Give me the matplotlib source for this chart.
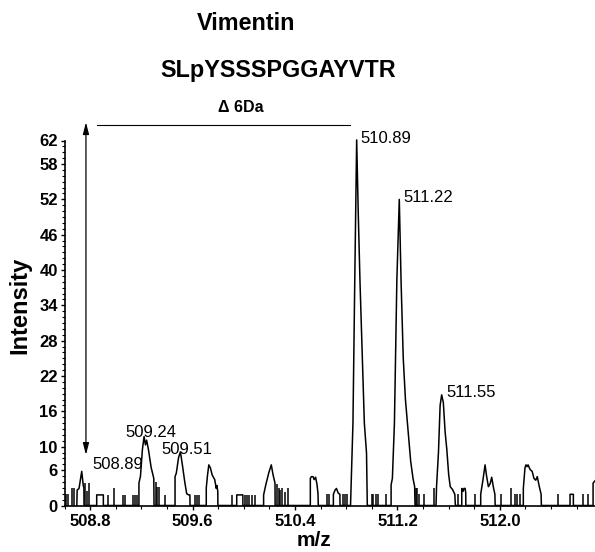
import matplotlib
matplotlib.use("Agg")
import matplotlib.pyplot as plt
from matplotlib.ticker import MultipleLocator, FixedLocator, FormatStrFormatter

plt.rcParams['font.family'] = ['Liberation Sans', 'DejaVu Sans']

# profile trace (m/z, intensity)
trace_mz = [
    508.695, 508.697, 508.712, 508.733, 508.745, 508.750, 508.751,
    508.850, 508.850, 508.902, 508.902,
    509.180, 509.180, 509.192, 509.207, 509.220, 509.231, 509.240, 509.255, 509.275, 509.296, 509.298,
    509.462, 509.462, 509.472, 509.490, 509.504, 509.520, 509.538, 509.553, 509.568, 509.578, 509.579,
    509.706, 509.706, 509.716, 509.726, 509.738, 509.752, 509.772, 509.784, 509.789, 509.796, 509.797,
    509.944, 509.944, 509.992, 509.992,
    510.154, 510.154, 510.172, 510.195, 510.214, 510.228, 510.243, 510.244,
    510.519, 510.519, 510.527, 510.540, 510.549, 510.560, 510.571, 510.579, 510.581,
    510.699, 510.699, 510.712, 510.723, 510.737, 510.750, 510.751,
    510.833, 510.852, 510.866, 510.881, 510.893, 510.907, 510.941, 510.958, 510.964,
    511.150, 511.150, 511.160, 511.176, 511.195, 511.214, 511.228, 511.245, 511.262, 511.285,
    511.303, 511.322, 511.334, 511.337,
    511.501, 511.505, 511.520, 511.533, 511.545, 511.558, 511.572, 511.585, 511.600, 511.612,
    511.630, 511.648, 511.652,
    511.702, 511.702, 511.712, 511.719, 511.728, 511.733, 511.734,
    511.850, 511.850, 511.868, 511.884, 511.896, 511.910, 511.924, 511.936, 511.950, 511.961, 511.963,
    512.183, 512.183, 512.196, 512.204, 512.212, 512.220, 512.236, 512.252, 512.266, 512.280,
    512.292, 512.306, 512.322, 512.324,
    512.548, 512.548, 512.574, 512.574,
    512.728, 512.728, 512.743,
]
trace_int = [
    0, 2.6, 2.9, 5.8, 3.4, 3.0, 0,
    0, 1.8, 1.8, 0,
    0, 3.8, 5.0, 9.5, 11.7, 10.3, 11.1, 9.4, 6.5, 4.6, 0,
    0, 4.9, 5.5, 8.2, 9.1, 6.8, 4.0, 2.0, 1.8, 1.8, 0,
    0, 3.0, 5.2, 6.9, 6.4, 5.2, 4.4, 2.9, 3.4, 2.4, 0,
    0, 1.8, 1.8, 0,
    0, 1.8, 3.6, 5.6, 6.9, 5.2, 3.8, 0,
    0, 4.6, 4.9, 4.9, 4.4, 4.8, 3.6, 2.0, 0,
    0, 1.9, 2.6, 2.9, 2.1, 1.9, 0,
    0, 14.0, 38.0, 62.1, 50.0, 38.0, 14.0, 8.9, 0,
    0, 3.5, 4.6, 14.0, 38.3, 52.0, 38.0, 25.0, 18.0, 12.0,
    7.5, 4.5, 3.2, 0,
    0, 3.2, 9.0, 17.0, 18.8, 17.5, 12.5, 9.6, 5.2, 3.2,
    2.7, 1.9, 0,
    0, 2.9, 2.4, 2.9, 2.9, 2.2, 0,
    0, 1.9, 4.4, 6.9, 5.0, 3.2, 3.7, 4.8, 3.0, 1.9, 0,
    0, 2.9, 6.4, 6.9, 6.6, 6.9, 6.1, 5.8, 4.6, 4.3,
    4.9, 3.4, 1.9, 0,
    0, 1.9, 1.9, 0,
    0, 3.8, 4.2,
]

# single-point noise spikes
stick_mz = [508.612, 508.628, 508.655, 508.672, 508.759, 508.777, 508.792, 508.941, 508.985,
            509.058, 509.071, 509.136, 509.149, 509.162, 509.313, 509.325, 509.336, 509.384,
            509.618, 509.631, 509.652, 509.907, 510.006, 510.024, 510.042, 510.063, 510.084,
            510.258, 510.271, 510.285, 510.297, 510.323, 510.347, 510.647, 510.665, 510.777,
            510.790, 510.803, 510.999, 511.012, 511.030, 511.051, 511.108, 511.342, 511.350,
            511.371, 511.407, 511.486, 511.676, 511.806, 512.009, 512.085, 512.118, 512.137,
            512.157, 512.457, 512.652, 512.691]
stick_h = [1.9, 1.9, 2.9, 2.9, 3.8, 2.4, 3.8, 1.8, 2.9,
           1.8, 1.8, 1.8, 1.8, 1.8, 4.0, 3.2, 3.2, 1.8,
           1.8, 1.8, 1.8, 1.8, 1.8, 1.8, 1.8, 1.8, 1.8,
           3.6, 3.0, 2.6, 2.9, 2.3, 2.9, 1.9, 1.9, 1.9,
           1.9, 1.9, 1.9, 1.9, 1.9, 1.9, 1.9, 2.9, 2.9,
           1.9, 1.9, 2.9, 1.9, 1.9, 1.9, 2.9, 1.9, 1.9,
           1.9, 1.9, 1.9, 1.9]

peak_labels = ["508.89", "509.24", "509.51", "510.89", "511.22", "511.55"]
label_mz = [508.819, 509.071, 509.352, 510.914, 511.245, 511.579]
label_int = [6.15, 11.6, 8.75, 61.6, 51.6, 18.5]

y_ticks = [0, 6, 10, 16, 22, 28, 34, 40, 46, 52, 58, 62]
x_ticks = [508.8, 509.6, 510.4, 511.2, 512.0]

fig = plt.figure(figsize=(5.95, 5.52), dpi=100)
ax = fig.add_axes([64.7 / 595, 1 - 505.5 / 552, (595 - 64.7) / 595, 365 / 552])

ax.plot(trace_mz, trace_int, color='black', lw=1.1, clip_on=False)
ax.vlines(stick_mz, 0, stick_h, color='black', lw=1.1)

for txt, x, y in zip(peak_labels, label_mz, label_int):
    ax.text(x, y, txt, fontsize=12, ha='left', va='baseline', clip_on=False)

# delta 6 Da annotation
ax.annotate('', xy=(508.766, 65.1), xytext=(508.766, 8.6),
            arrowprops=dict(arrowstyle='<|-|>,head_length=0.7,head_width=0.18',
                            color='black', lw=0.9, shrinkA=0, shrinkB=0),
            annotation_clip=False)
ax.plot([508.85, 510.829], [64.6, 64.6], color='black', lw=0.8, clip_on=False)
ax.text(509.977, 66.8, '\u0394 6Da', fontsize=11.5, fontweight='bold', ha='center',
        va='baseline', clip_on=False)

ax.set_xlim(508.6, 512.743)
ax.set_ylim(0, 62)
ax.spines['top'].set_visible(False)
ax.spines['right'].set_visible(False)
ax.spines['left'].set_linewidth(1.2)
ax.spines['bottom'].set_linewidth(1.2)

ax.yaxis.set_major_locator(FixedLocator(y_ticks))
ax.yaxis.set_minor_locator(MultipleLocator(1))
ax.xaxis.set_major_locator(FixedLocator(x_ticks))
ax.xaxis.set_minor_locator(MultipleLocator(0.2))
ax.xaxis.set_major_formatter(FormatStrFormatter('%.1f'))
ax.tick_params(which='major', length=3, width=1, pad=3)
ax.tick_params(which='minor', length=2, width=0.8)
ax.tick_params(axis='y', which='major', pad=2)
for lab in ax.get_xticklabels() + ax.get_yticklabels():
    lab.set_fontsize(12)
    lab.set_fontweight('bold')

fig.text(19.5 / 595, 1 - 305 / 552, 'Intensity', rotation=90, fontsize=17,
         fontweight='bold', ha='center', va='center')
fig.text(314 / 595, 1 - 540 / 552, 'm/z', fontsize=15, fontweight='bold',
         ha='center', va='center')
fig.text(246.5 / 595, 1 - 30 / 552, 'Vimentin', fontsize=16.8, fontweight='bold',
         ha='center', va='baseline')
fig.text(278 / 595, 1 - 77 / 552, 'SLpYSSSPGGAYVTR', fontsize=16.8, fontweight='bold',
         ha='center', va='baseline')

fig.savefig('out.png', dpi=100)
